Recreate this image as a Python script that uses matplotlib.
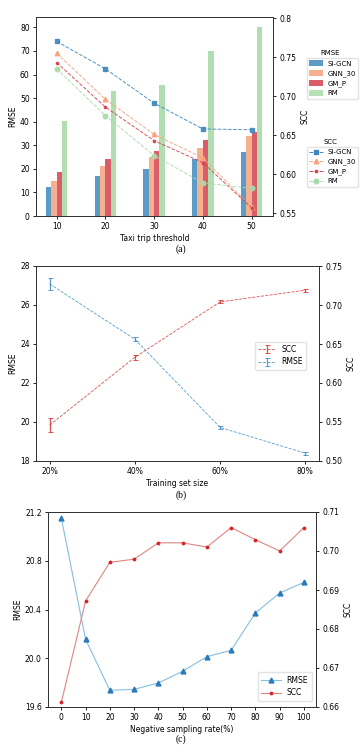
import matplotlib
matplotlib.use("Agg")
import matplotlib.pyplot as plt
from matplotlib.lines import Line2D
from matplotlib.patches import Patch
import numpy as np

# (a) taxi trip threshold
thresholds = [10, 20, 30, 40, 50]
methods = ["SI-GCN", "GNN_30", "GM_P", "RM"]
rmse_a = {
    "SI-GCN": [12.3, 17.0, 20.0, 24.3, 27.0],
    "GNN_30": [15.0, 21.0, 25.0, 29.0, 34.0],
    "GM_P": [18.5, 24.2, 27.6, 32.2, 35.7],
    "RM": [40.5, 53.0, 55.5, 70.0, 80.0],
}
scc_a = {
    "SI-GCN": [0.770, 0.735, 0.691, 0.658, 0.657],
    "GNN_30": [0.755, 0.696, 0.651, 0.621, 0.558],
    "GM_P": [0.743, 0.686, 0.643, 0.615, 0.557],
    "RM": [0.735, 0.675, 0.624, 0.589, 0.582],
}

# (b) training set size
train_sizes = ["20%", "40%", "60%", "80%"]
scc_b = [0.546, 0.633, 0.704, 0.719]
scc_b_err = [0.009, 0.003, 0.002, 0.002]
rmse_b = [27.08, 24.24, 19.72, 18.40]
rmse_b_err = [0.30, 0.10, 0.10, 0.07]

# (c) negative sampling rate
neg_rates = [0, 10, 20, 30, 40, 50, 60, 70, 80, 90, 100]
rmse_c = [21.15, 20.155, 19.737, 19.745, 19.797, 19.893, 20.013, 20.065, 20.371, 20.535, 20.623]
scc_c = [0.6612, 0.6872, 0.6971, 0.6979, 0.7021, 0.7021, 0.7010, 0.7060, 0.7029, 0.7000, 0.7060]

colors = {"SI-GCN": "#3f88bd", "GNN_30": "#f6a27c", "GM_P": "#d4424f", "RM": "#a9dba9"}
markers = {"SI-GCN": "s", "GNN_30": "^", "GM_P": ".", "RM": "o"}
msizes = {"SI-GCN": 3.3, "GNN_30": 3.3, "GM_P": 3.3, "RM": 3.3}

FS = 5.5
LFS = 5.0
plt.rcParams["font.size"] = FS
plt.rcParams["axes.linewidth"] = 0.7
plt.rcParams["axes.edgecolor"] = "#333333"
plt.rcParams["xtick.major.size"] = 2.5
plt.rcParams["ytick.major.size"] = 2.5
plt.rcParams["xtick.major.width"] = 0.6
plt.rcParams["ytick.major.width"] = 0.6
plt.rcParams["xtick.major.pad"] = 2
plt.rcParams["ytick.major.pad"] = 2

W, H = 362, 752
fig = plt.figure(figsize=(W / 100, H / 100), dpi=100)


def box(l, t, r, b):
    return [l / W, 1 - b / H, (r - l) / W, (b - t) / H]


def caption(x, y, s):
    fig.text(x / W, 1 - y / H, s, ha="center", va="center", family="Liberation Serif", fontsize=7)


# ---- (a)
ax = fig.add_axes(box(36, 17, 273, 216))
width = 1.1
offsets = [-1.65, -0.55, 0.55, 1.65]
x = np.array(thresholds, dtype=float)
for m, off in zip(methods, offsets):
    ax.bar(x + off, rmse_a[m], width, color=colors[m], alpha=0.85 if m != "RM" else 0.9)
ax.set_xlim(5.75, 54.4)
ax.set_ylim(0, 84.4)
ax.set_xticks(thresholds)
ax.set_yticks(range(0, 81, 10))
ax.set_ylabel("RMSE", fontsize=FS, labelpad=2)
ax.set_xlabel("Taxi trip threshold", fontsize=FS, labelpad=2)

ax2 = ax.twinx()
for m in methods:
    ax2.plot(thresholds, scc_a[m], linestyle="--", linewidth=0.7, color=colors[m],
             marker=markers[m], markersize=msizes[m], alpha=0.9)
ax2.set_ylim(0.5466, 0.8013)
ax2.set_yticks([0.55, 0.60, 0.65, 0.70, 0.75, 0.8])
ax2.set_yticklabels(["0.55", "0.60", "0.65", "0.70", "0.75", "0.8"])
ax2.set_ylabel("SCC", fontsize=FS, labelpad=3)

# legends of (a): title sits above the frame
bar_handles = [Patch(facecolor=colors[m], alpha=0.85) for m in methods]
fig.legend(bar_handles, methods, loc="upper left",
           bbox_to_anchor=(307 / W, 1 - 58 / H), fontsize=LFS,
           borderaxespad=0, handlelength=2.0, handleheight=0.9, labelspacing=0.45,
           borderpad=0.35, handletextpad=0.6, edgecolor="#dddddd", fancybox=True)
fig.text(330 / W, 1 - 53 / H, "RMSE", ha="center", va="center", fontsize=LFS)
line_handles = [Line2D([], [], linestyle="--", linewidth=0.7, color=colors[m],
                       marker=markers[m], markersize=msizes[m]) for m in methods]
fig.legend(line_handles, methods, loc="upper left",
           bbox_to_anchor=(307 / W, 1 - 147 / H), fontsize=LFS,
           borderaxespad=0, handlelength=2.0, labelspacing=0.45, borderpad=0.35,
           handletextpad=0.6, edgecolor="#dddddd", fancybox=True)
fig.text(330 / W, 1 - 142 / H, "SCC", ha="center", va="center", fontsize=LFS)
caption(181, 249, "(a)")

# ---- (b)
bx = fig.add_axes(box(36, 266, 319, 461))
xb = np.arange(len(train_sizes))
bx2 = bx.twinx()
h_scc = bx2.errorbar(xb, scc_b, yerr=scc_b_err, color="#d62728", linestyle="--",
                     linewidth=0.6, elinewidth=0.9, capsize=1.8, capthick=0.7, alpha=0.8)
h_rmse = bx.errorbar(xb, rmse_b, yerr=rmse_b_err, color="#2e86c1", linestyle="--",
                     linewidth=0.6, elinewidth=0.9, capsize=1.8, capthick=0.7, alpha=0.8)
bx.set_xlim(-0.16, 3.16)
bx.set_ylim(18, 28)
bx.set_yticks(range(18, 29, 2))
bx.set_xticks(xb)
bx.set_xticklabels(train_sizes)
bx2.set_ylim(0.50, 0.75)
bx2.set_yticks([0.50, 0.55, 0.60, 0.65, 0.70, 0.75])
bx2.set_yticklabels(["0.50", "0.55", "0.60", "0.65", "0.70", "0.75"])
bx.set_ylabel("RMSE", fontsize=FS, labelpad=2)
bx2.set_ylabel("SCC", fontsize=FS, labelpad=3)
bx.set_xlabel("Training set size", fontsize=FS, labelpad=2)
bx2.legend([h_scc, h_rmse], ["SCC", "RMSE"], loc="center right",
           bbox_to_anchor=(0.955, 0.54), fontsize=FS, handlelength=2.2,
           edgecolor="#dddddd", borderpad=0.45, labelspacing=0.45, borderaxespad=0)
caption(181, 495, "(b)")

# ---- (c)
cx = fig.add_axes(box(48, 512, 316, 707))
l_rmse, = cx.plot(neg_rates, rmse_c, color="#86bedf", linewidth=0.8, marker="^",
                  markersize=3.5, markerfacecolor="#2b7bba", markeredgecolor="#2b7bba")
cx.set_xlim(-5.5, 105)
cx.set_ylim(19.6, 21.2)
cx.set_yticks([19.6, 20.0, 20.4, 20.8, 21.2])
cx.set_xticks(neg_rates)
cx.set_ylabel("RMSE", fontsize=FS, labelpad=2)
cx.set_xlabel("Negative sampling rate(%)", fontsize=FS, labelpad=2)
cx2 = cx.twinx()
l_scc, = cx2.plot(neg_rates, scc_c, color="#e08585", linewidth=0.8, marker=".",
                  markersize=3.5, markerfacecolor="#d62728", markeredgecolor="#d62728")
cx2.set_ylim(0.66, 0.71)
cx2.set_yticks([0.66, 0.67, 0.68, 0.69, 0.70, 0.71])
cx2.set_yticklabels(["0.66", "0.67", "0.68", "0.69", "0.70", "0.71"])
cx2.set_ylabel("SCC", fontsize=FS, labelpad=3)
cx2.legend([l_rmse, l_scc], ["RMSE", "SCC"], loc="lower right", fontsize=FS,
           bbox_to_anchor=(0.985, 0.03), borderaxespad=0,
           handlelength=2.5, edgecolor="#dddddd", borderpad=0.5, labelspacing=0.5)
caption(181, 739, "(c)")

fig.savefig("out.png", dpi=100)
